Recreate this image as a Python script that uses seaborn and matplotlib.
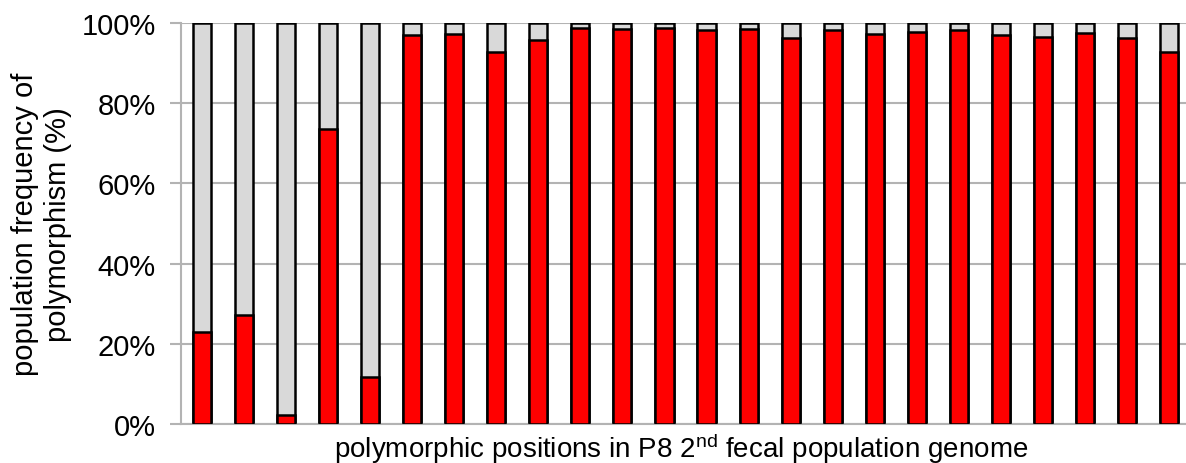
import matplotlib
matplotlib.use("Agg")
import matplotlib.pyplot as plt
import seaborn as sns
import pandas as pd
from matplotlib.ticker import FuncFormatter

# Data (percent of the red allele at each polymorphic position)
positions = [f"pos{i}" for i in range(1, 25)]
red_pct = [22.9, 27.3, 2.3, 73.6, 11.7, 97.1, 97.4, 92.8, 95.8, 98.7, 98.5, 98.9,
           98.3, 98.5, 96.3, 98.4, 97.2, 97.8, 98.3, 97.1, 96.5, 97.6, 96.2, 92.7]
total_pct = [100.0] * len(positions)
y_ticks = [0, 20, 40, 60, 80, 100]

df = pd.DataFrame({"position": positions, "red": red_pct, "total": total_pct})

sns.set_theme(style="white")
plt.rcParams["font.family"] = ["Liberation Sans", "DejaVu Sans"]
plt.rcParams["mathtext.fontset"] = "custom"
plt.rcParams["mathtext.rm"] = "Liberation Sans"
plt.rcParams["mathtext.it"] = "Liberation Sans:italic"
plt.rcParams["mathtext.bf"] = "Liberation Sans:bold"

fig = plt.figure(figsize=(11.86, 4.64), dpi=100)
ax = fig.add_axes([0.1526, 0.084, 0.8508, 0.864])

sns.barplot(data=df, x="position", y="total", color="#d9d9d9", saturation=1,
            edgecolor="black", linewidth=1.8, width=0.43, ax=ax, zorder=2)
sns.barplot(data=df, x="position", y="red", color="#ff0000", saturation=1,
            edgecolor="black", linewidth=1.8, width=0.43, ax=ax, zorder=3)

ax.set_xlim(-0.5, len(positions) - 0.5)
ax.set_ylim(0, 100)
ax.set_yticks(y_ticks)
ax.yaxis.set_major_formatter(FuncFormatter(lambda v, p: f"{int(v)}%"))
ax.set_xticks([])
ax.yaxis.grid(True, color="#b3b3b3", linewidth=1.5, zorder=0)
ax.set_axisbelow(True)

for s in ["top", "right"]:
    ax.spines[s].set_visible(False)
for s in ["left", "bottom"]:
    ax.spines[s].set_color("#b3b3b3")
    ax.spines[s].set_linewidth(1.5)

ax.tick_params(axis="y", which="major", left=True, length=8, width=1.5,
               color="#b3b3b3", labelsize=21, pad=10, labelcolor="black")

ax.set_ylabel("population frequency of\npolymorphism (%)", fontsize=21,
              linespacing=1.25, color="black")
ax.yaxis.label.set_va("center")
ax.yaxis.set_label_coords(-0.138, 0.5)
ax.set_xlabel("polymorphic positions in P8 2$^{\\rm nd}$ fecal population genome",
              fontsize=20, color="black")
ax.xaxis.label.set_va("center")
ax.xaxis.set_label_coords(0.4955, -0.058)

fig.savefig("out.png", dpi=100)
